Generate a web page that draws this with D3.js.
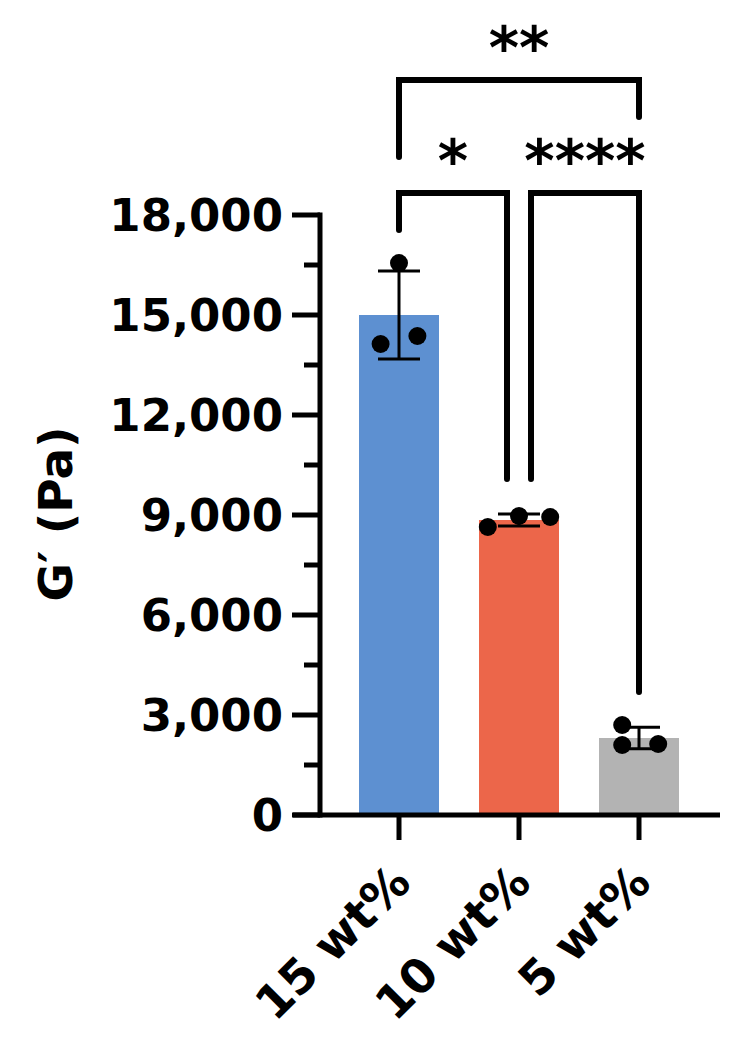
<!DOCTYPE html>
<html>
<head>
<meta charset="utf-8">
<script src="https://cdn.jsdelivr.net/npm/d3@7"></script>
<style>
  html, body { margin: 0; padding: 0; background: #fff; }
  svg { display: block; font-family: "DejaVu Sans", Verdana, sans-serif; font-weight: bold; }
</style>
</head>
<body>
<svg id="chart" width="750" height="1038"></svg>
<script>
// ================= DATA =================
const categories = ["15 wt%", "10 wt%", "5 wt%"];
const means = [15000, 8850, 2310];
const sds = [1320, 180, 320];
const points = [
  [16560, 14130, 14370],
  [8640, 8970, 8940],
  [2700, 2100, 2130]
];
// horizontal scatter of the replicate dots, as a fraction of bar width
const jitter = [
  [0, -0.23, 0.23],
  [-0.39, 0, 0.39],
  [-0.21, -0.21, 0.24]
];
const colors = ["#5d90d1", "#ec664a", "#b3b3b3"];
const yTicks = [0, 3000, 6000, 9000, 12000, 15000, 18000];
const yMinorTicks = [1500, 4500, 7500, 10500, 13500, 16500];

// significance brackets (from / to index, bar height, leg ends in Pa)
const comparisons = [
  { a: 0, b: 1, label: "*", y: 18660, legA: 17550, legB: 10080 },
  { a: 1, b: 2, label: "****", y: 18660, legA: 10080, legB: 3690 },
  { a: 0, b: 2, label: "**", y: 22050, legA: 19740, legB: 20940 }
];

// ================= LAYOUT =================
const svg = d3.select("#chart");
const axisX = 320;
const axisY = 815;
const bracketGap = 12; // inner brackets step aside where they share a bar

const x = d3.scaleBand()
  .domain(categories)
  .range([339, 699])
  .paddingInner(1 / 3)
  .paddingOuter(1 / 6);

const y = d3.scaleLinear()
  .domain([0, 18000])
  .range([axisY, 215]);

const cx = (i) => x(categories[i]) + x.bandwidth() / 2;

// ---------- bars ----------
svg.append("g")
  .selectAll("rect")
  .data(means)
  .join("rect")
  .attr("x", (d, i) => x(categories[i]))
  .attr("width", x.bandwidth())
  .attr("y", (d) => y(d))
  .attr("height", (d) => y(0) - y(d))
  .attr("fill", (d, i) => colors[i]);

// ---------- error bars ----------
const capHalf = 21;
const err = svg.append("g")
  .attr("stroke", "#000")
  .attr("stroke-width", 3);

means.forEach((m, i) => {
  const c = cx(i);
  err.append("line")
    .attr("x1", c).attr("x2", c)
    .attr("y1", y(m - sds[i])).attr("y2", y(m + sds[i]));
  [m - sds[i], m + sds[i]].forEach((v) => {
    err.append("line")
      .attr("x1", c - capHalf).attr("x2", c + capHalf)
      .attr("y1", y(v)).attr("y2", y(v));
  });
});

// ---------- dots ----------
const dotData = points.flatMap((arr, i) =>
  arr.map((v, j) => ({ i, v, off: jitter[i][j] }))
);
svg.append("g")
  .selectAll("circle")
  .data(dotData)
  .join("circle")
  .attr("cx", (d) => cx(d.i) + d.off * x.bandwidth())
  .attr("cy", (d) => y(d.v))
  .attr("r", 9)
  .attr("fill", "#000");

// ---------- y axis ----------
const yAxis = svg.append("g").attr("transform", `translate(${axisX},0)`);

yAxis.append("line")
  .attr("x1", 0).attr("x2", 0)
  .attr("y1", y(18000) - 2.5).attr("y2", axisY + 2.5)
  .attr("stroke", "#000").attr("stroke-width", 5);

yAxis.selectAll(".major")
  .data(yTicks)
  .join("line")
  .attr("class", "major")
  .attr("x1", -28).attr("x2", 0)
  .attr("y1", (d) => y(d)).attr("y2", (d) => y(d))
  .attr("stroke", "#000").attr("stroke-width", 5);

yAxis.selectAll(".minor")
  .data(yMinorTicks)
  .join("line")
  .attr("class", "minor")
  .attr("x1", -16).attr("x2", 0)
  .attr("y1", (d) => y(d)).attr("y2", (d) => y(d))
  .attr("stroke", "#000").attr("stroke-width", 5);

yAxis.selectAll("text")
  .data(yTicks)
  .join("text")
  .attr("x", -37)
  .attr("y", (d) => y(d))
  .attr("dy", "0.36em")
  .attr("text-anchor", "end")
  .attr("font-size", 45)
  .text((d) => d3.format(",")(d));

// axis title
svg.append("text")
  .attr("transform", `translate(72,514) rotate(-90)`)
  .attr("text-anchor", "middle")
  .attr("font-size", 47)
  .text("G\u2032 (Pa)");

// ---------- x axis ----------
const xAxis = svg.append("g");
xAxis.append("line")
  .attr("x1", 293).attr("x2", 720)
  .attr("y1", axisY).attr("y2", axisY)
  .attr("stroke", "#000").attr("stroke-width", 5);

xAxis.selectAll(".tick")
  .data(categories)
  .join("line")
  .attr("class", "tick")
  .attr("x1", (d, i) => cx(i)).attr("x2", (d, i) => cx(i))
  .attr("y1", axisY).attr("y2", 840)
  .attr("stroke", "#000").attr("stroke-width", 5);

xAxis.selectAll("text")
  .data(categories)
  .join("text")
  .attr("transform", (d, i) => `translate(${cx(i) - 10},861) rotate(-45)`)
  .attr("dy", "0.72em")
  .attr("text-anchor", "end")
  .attr("font-size", 47)
  .text((d) => d);

// ---------- significance brackets ----------
const sig = svg.append("g");
comparisons.forEach((c) => {
  const adjacent = c.b - c.a === 1;
  const xa = cx(c.a) + (adjacent && c.a > 0 ? bracketGap : 0);
  const xb = cx(c.b) - (adjacent && c.b < categories.length - 1 ? bracketGap : 0);
  c.mid = (xa + xb) / 2;
  sig.append("path")
    .attr("d", `M${xa},${y(c.legA)} V${y(c.y)} H${xb} V${y(c.legB)}`)
    .attr("fill", "none")
    .attr("stroke", "#000")
    .attr("stroke-width", 6)
    .attr("stroke-linecap", "round")
    .attr("stroke-linejoin", "miter");
});

sig.selectAll("text")
  .data(comparisons)
  .join("text")
  .attr("x", (d) => d.mid)
  .attr("y", (d) => y(d.y) - 12)
  .attr("text-anchor", "middle")
  .attr("font-size", 58)
  .text((d) => d.label);
</script>
</body>
</html>
